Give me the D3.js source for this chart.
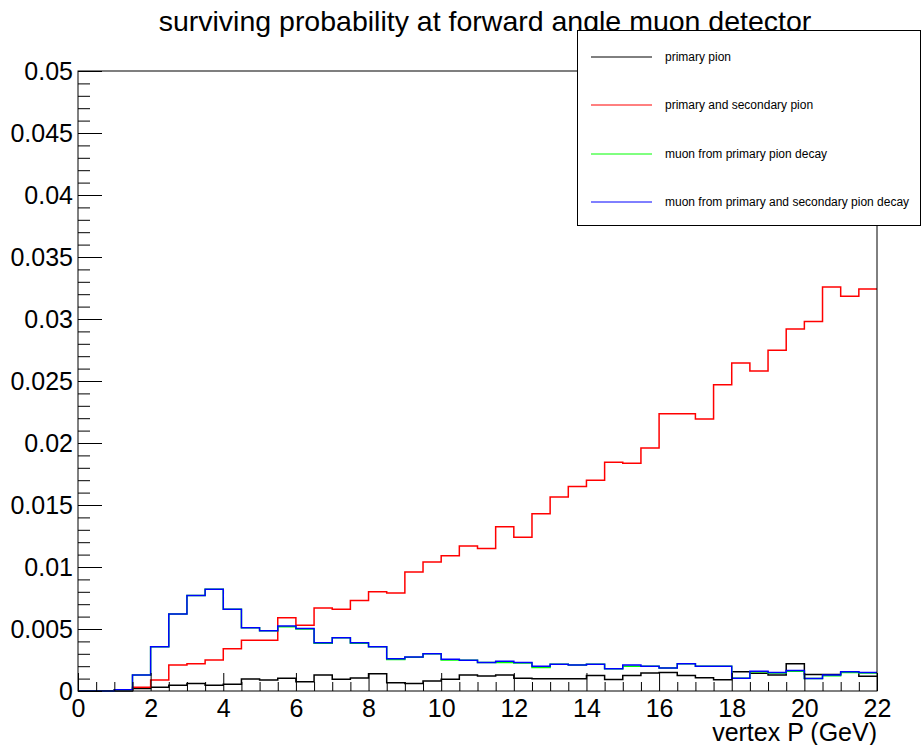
<!DOCTYPE html>
<html><head><meta charset="utf-8">
<script src="https://cdn.jsdelivr.net/npm/d3@7"></script>
<style>
body{margin:0;background:#fff;}
svg{display:block;font-family:"Liberation Sans",Arial,Helvetica,sans-serif;}
</style></head>
<body><svg id="c" width="924" height="745"></svg>
<script>
const title = "surviving probability at forward angle muon detector";
const xTitle = "vertex P (GeV)";
const binWidth = 0.5;
const xMajorTicks = [0,2,4,6,8,10,12,14,16,18,20,22];
const yMajorTicks = [0,0.005,0.01,0.015,0.02,0.025,0.03,0.035,0.04,0.045,0.05];
const yTickLabels = ["0","0.005","0.01","0.015","0.02","0.025","0.03","0.035","0.04","0.045","0.05"];
const legendLabels = ["primary pion","primary and secondary pion","muon from primary pion decay","muon from primary and secondary pion decay"];
const seriesColors = ["#000000","#ff0000","#00ff00","#0000ff"];

const primaryPion = [0,0,0,0.0002,0.0003,0.00046,0.0006,0.00046,0.00054,0.00097,
  0.00089,0.00102,0.00075,0.00129,0.00094,0.00105,0.0014,0.00067,0.0006,0.0008,
  0.00095,0.0013,0.0012,0.0013,0.00102,0.00098,0.00098,0.00098,0.00125,0.00092,
  0.00124,0.00145,0.0015,0.00124,0.00107,0.0009,0.00155,0.00144,0.0013,0.0022,
  0.00133,0.00133,0.00152,0.00118];
const primarySecondaryPion = [0,0,0.0001,0.0003,0.00088,0.0021,0.0022,0.0025,0.0034,0.0041,
  0.0041,0.0059,0.0053,0.0067,0.0066,0.0073,0.0080,0.0079,0.0096,0.0104,
  0.0109,0.0117,0.0115,0.01325,0.0124,0.0143,0.01565,0.0165,0.0170,0.01844,
  0.01836,0.0196,0.02236,0.02236,0.02194,0.0247,0.02645,0.0258,0.02747,0.0292,
  0.0298,0.03258,0.03183,0.03242];
const muonPrimary = [0,0,0.0001,0.0013,0.00357,0.0062,0.0077,0.0082,0.0066,0.0051,
  0.00486,0.00518,0.005,0.00385,0.0043,0.00385,0.00357,0.00255,0.00272,0.003,
  0.0025,0.00248,0.0023,0.0023,0.00225,0.0019,0.00215,0.0021,0.00215,0.0018,
  0.002,0.002,0.00185,0.0022,0.002,0.002,0.00103,0.00155,0.00145,0.0016,
  0.001,0.00122,0.0015,0.00145];
const muonPrimarySecondary = [0,0,0.0001,0.0013,0.00357,0.0062,0.0077,0.0082,0.0066,0.0051,
  0.00486,0.00524,0.00505,0.0039,0.0043,0.0039,0.00357,0.0026,0.00275,0.003,
  0.00256,0.00248,0.0023,0.0024,0.0023,0.002,0.00215,0.0021,0.00215,0.0018,
  0.0021,0.002,0.00185,0.0022,0.002,0.002,0.00103,0.0016,0.0015,0.00165,
  0.001,0.0013,0.00155,0.0015];
const allSeries = [primaryPion, primarySecondaryPion, muonPrimary, muonPrimarySecondary];

const svg = d3.select("#c");
const L = 78, R = 877, T = 71, B = 691;
const x = d3.scaleLinear().domain([0,22]).range([L,R]);
const y = d3.scaleLinear().domain([0,0.05]).range([B,T]);

// title
svg.append("text").attr("x",485).attr("y",31).attr("text-anchor","middle")
  .attr("font-size","28.5px").attr("fill","#000").text(title);

// histograms
const line = d3.line().x(d=>x(d[0])).y(d=>y(d[1])).curve(d3.curveStepAfter);
allSeries.forEach((vals,k)=>{
  const pts = vals.map((v,i)=>[i*binWidth, v]);
  pts.push([vals.length*binWidth, vals[vals.length-1]]);
  svg.append("path").attr("d",line(pts)).attr("fill","none")
    .attr("stroke",seriesColors[k]).attr("stroke-width",1.5);
});

// axes ticks
const xMinor = d3.range(0, 22.0001, 0.5).filter(v=>!xMajorTicks.includes(v));
const yMinor = d3.range(0, 0.05001, 0.001).filter(v=>!yMajorTicks.some(m=>Math.abs(m-v)<1e-9));
const gx = svg.append("g").attr("transform",`translate(0,${B})`);
gx.call(d3.axisBottom(x).tickValues(xMajorTicks).tickSize(-18).tickPadding(26).tickFormat(d3.format("d")));
gx.append("g").call(d3.axisBottom(x).tickValues(xMinor).tickSize(-9).tickFormat(""));
const gy = svg.append("g").attr("transform",`translate(${L},0)`);
gy.call(d3.axisLeft(y).tickValues(yMajorTicks).tickSize(-24).tickPadding(5).tickFormat((d,i)=>yTickLabels[i]));
gy.append("g").call(d3.axisLeft(y).tickValues(yMinor).tickSize(-12).tickFormat(""));
svg.selectAll(".domain").remove();
svg.selectAll(".tick line").attr("stroke","#000").attr("stroke-width",1);
svg.selectAll(".tick text").attr("font-size","25px").attr("fill","#000")
  .attr("font-family","'Liberation Sans',Arial,Helvetica,sans-serif");
gx.selectAll(".tick text").attr("dy","0");
gy.selectAll(".tick text").attr("dy","0.35em");

// frame
svg.append("rect").attr("x",L).attr("y",T).attr("width",R-L).attr("height",B-T)
  .attr("fill","none").attr("stroke","#000").attr("stroke-width",1);

// x title
svg.append("text").attr("x",R).attr("y",741).attr("text-anchor","end")
  .attr("font-size","25px").attr("fill","#000").text(xTitle);

// legend
const lg = svg.append("g");
lg.append("rect").attr("x",577.5).attr("y",30.5).attr("width",343).attr("height",195)
  .attr("fill","#fff").attr("stroke","#000").attr("stroke-width",1);
const legY = [57, 105, 154, 202];
legendLabels.forEach((t,i)=>{
  lg.append("line").attr("x1",591).attr("x2",652).attr("y1",legY[i]).attr("y2",legY[i])
    .attr("stroke",seriesColors[i]).attr("stroke-width",1);
  lg.append("text").attr("x",665).attr("y",legY[i]).attr("dy","0.35em")
    .attr("font-size","12px").attr("fill","#000").text(t);
});
</script></body></html>
